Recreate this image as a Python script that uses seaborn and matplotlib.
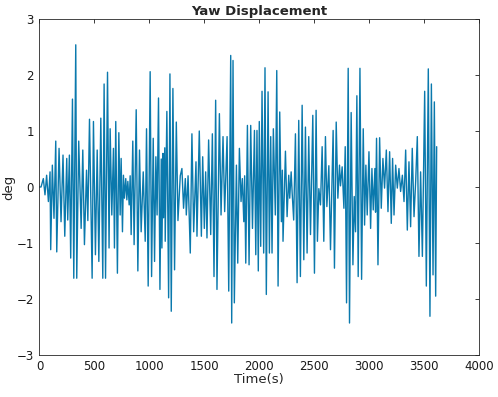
import matplotlib
matplotlib.use("Agg")
import matplotlib.pyplot as plt
import seaborn as sns
import pandas as pd

# picos (tempo em s, deslocamento em graus)
time_s = [
    0, 14, 35, 50, 65, 81, 96, 102, 117, 132, 148, 157, 178, 196, 214, 230, 248, 257, 272, 284,
    300, 312, 330, 339, 357, 379, 394, 409, 428, 440, 455, 479, 491, 509, 525, 540, 558, 576, 588, 601,
    619, 633, 643, 658, 673, 682, 694, 709, 722, 734, 743, 755, 764, 773, 785, 795, 804, 816, 825, 834,
    849, 861, 880, 895, 910, 925, 944, 962, 974, 989, 1007, 1020, 1035, 1047, 1059, 1070, 1083, 1096, 1108, 1114,
    1124, 1129, 1140, 1144, 1159, 1175, 1187, 1199, 1214, 1229, 1245, 1260, 1281, 1296, 1311, 1327, 1336, 1352, 1372, 1387,
    1403, 1424, 1433, 1454, 1473, 1485, 1500, 1512, 1524, 1539, 1558, 1573, 1588, 1603, 1615, 1637, 1652, 1670, 1685, 1707,
    1722, 1740, 1749, 1761, 1773, 1792, 1804, 1819, 1834, 1846, 1859, 1867, 1877, 1892, 1907, 1922, 1938, 1956, 1968, 1979,
    1991, 2000, 2013, 2025, 2040, 2052, 2064, 2080, 2092, 2104, 2116, 2128, 2146, 2159, 2171, 2186, 2201, 2210, 2216, 2238,
    2253, 2268, 2277, 2290, 2299, 2313, 2329, 2344, 2359, 2374, 2390, 2405, 2420, 2435, 2450, 2466, 2487, 2502, 2517, 2529,
    2542, 2557, 2572, 2587, 2602, 2615, 2633, 2648, 2672, 2684, 2700, 2715, 2730, 2739, 2754, 2770, 2782, 2794, 2809, 2821,
    2836, 2852, 2864, 2876, 2888, 2900, 2916, 2931, 2946, 2958, 2970, 2982, 2998, 3013, 3025, 3037, 3052, 3058, 3067, 3080,
    3095, 3110, 3125, 3140, 3156, 3171, 3186, 3201, 3213, 3226, 3241, 3256, 3271, 3286, 3302, 3317, 3332, 3347, 3362, 3377,
    3392, 3408, 3423, 3438, 3453, 3468, 3484, 3505, 3520, 3538, 3553, 3566, 3581, 3593, 3605, 3614,
]
yaw_deg = [
    0, 0.0, 0.15, -0.14, 0.21, -0.26, 0.27, -1.12, 0.39, -0.56, 0.82, -1.16, 0.69, -0.62, 0.57, -0.88, 0.51, -0.59, 0.57, -1.27,
    1.57, -1.63, 2.54, -1.63, 0.82, -0.74, 0.66, -1.03, 0.3, -0.6, 1.21, -1.63, 1.17, -1.21, 0.66, -1.33, 1.23, -1.63, 1.84, -1.63,
    2.05, -1.09, 1.04, -0.5, 0.69, -1.09, 1.17, -1.54, 0.97, -0.5, 0.51, -0.8, 0.21, -0.2, 0.15, -0.23, 0.1, -0.32, 0.2, -0.85,
    0.82, -1.03, 1.38, -1.5, 0.66, -0.8, 0.27, -0.97, 1.04, -1.77, 2.06, -1.6, 0.87, -1.33, 0.54, -0.5, 1.59, -1.83, 0.5, -1.09,
    0.6, -0.55, 0.7, -0.97, 1.35, -1.98, 2.02, -2.22, 1.76, -1.48, 1.16, -0.6, 0.2, 0.33, -0.38, 0.15, -0.5, 0.2, -1.18, 0.95,
    -0.8, 0.45, -0.88, 1.0, -0.88, 0.54, -0.74, 0.27, -0.91, 0.84, -0.85, 0.95, -1.6, 1.55, -1.83, 1.31, -0.5, 0.9, -0.44, 0.9,
    -1.86, 2.35, -2.43, 2.26, -2.07, 0.39, -1.36, 0.69, -0.26, 0.15, -0.62, 0.2, -1.36, 1.1, -1.39, 1.1, -0.74, 1.01, -1.21, 1.01,
    -1.5, 1.17, -1.06, 1.71, -1.18, 2.13, -1.92, 1.7, -1.18, 0.9, -1.18, 1.04, -0.5, 2.08, -1.77, 1.34, -0.62, 0.3, -0.97, 0.64,
    -0.53, 0.21, -0.2, 0.27, -0.1, -0.59, 0.95, -1.71, 1.19, -1.6, 1.46, -1.3, 1.07, -1.18, 0.9, -0.85, 1.28, -1.54, 1.37, -0.97,
    -0.03, -0.32, 0.72, -0.97, 0.9, -0.35, 0.38, -1.12, 1.01, -1.45, 1.16, -0.2, 0.39, 0.02, 0.36, -0.38, 0.72, -2.07, 2.12, -2.43,
    1.33, -1.39, -0.17, -0.8, 1.63, -1.6, 2.12, -1.65, 1.04, -0.68, 0.39, -0.5, 0.63, -0.74, 0.33, -0.41, 0.33, -0.45, 0.87, -1.39,
    0.88, -0.38, 0.51, -0.02, 0.66, -0.44, 0.63, -0.65, 0.51, -0.5, 0.39, -0.02, 0.33, -0.08, 0.21, -0.26, 0.66, -0.77, 0.45, -0.71,
    0.69, -0.53, 0.1, 0.9, -1.24, 0.27, -1.24, 1.71, -1.77, 2.11, -2.31, 1.84, -1.57, 1.52, -1.95, 0.72,
]
x_ticks = [0, 500, 1000, 1500, 2000, 2500, 3000, 3500, 4000]
y_ticks = [-3, -2, -1, 0, 1, 2, 3]

df = pd.DataFrame({"t": time_s, "yaw": yaw_deg})

sns.set_style("white")
plt.rcParams["font.family"] = ["DejaVu Sans"]

fig = plt.figure(figsize=(4.98, 3.97), dpi=100)
ax = fig.add_axes([0.0793, 0.106, 0.8827, 0.846])

# linha principal
sns.lineplot(data=df, x="t", y="yaw", estimator=None, sort=False,
             color="#0a79ad", linewidth=1.0, ax=ax)

ax.set_xlim(0, 4000)
ax.set_ylim(-3, 3)
ax.set_xticks(x_ticks)
ax.set_yticks(y_ticks)
ax.tick_params(direction="in", top=True, right=True, length=3, width=0.6,
               labelsize=8.5, colors="#1a1a1a", pad=4)
for s in ax.spines.values():
    s.set_visible(True)
    s.set_color("#262626")
    s.set_linewidth(0.6)

ax.set_title("Yaw Displacement", fontsize=9.5, fontweight="bold", pad=3)
ax.set_xlabel("Time(s)", fontsize=9.5, labelpad=0)
ax.set_ylabel("deg", fontsize=9.5, labelpad=1)

fig.savefig("out.png", dpi=100)
